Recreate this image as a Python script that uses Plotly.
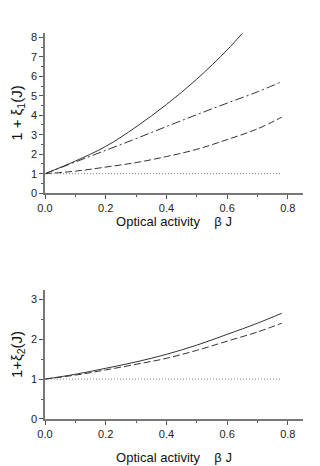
import plotly.graph_objects as go
from plotly.subplots import make_subplots

# top panel: 1 + xi_1(J)
x_solid1 = [0.0, 0.1, 0.2, 0.3, 0.4, 0.5, 0.6, 0.65]
y_solid1 = [1.0, 1.65, 2.4, 3.4, 4.55, 5.85, 7.35, 8.2]
x_dashdot1 = [0.0, 0.1, 0.2, 0.3, 0.4, 0.5, 0.6, 0.7, 0.78]
y_dashdot1 = [1.0, 1.6, 2.2, 2.8, 3.42, 4.03, 4.62, 5.2, 5.72]
x_dash1 = [0.0, 0.1, 0.2, 0.3, 0.4, 0.5, 0.6, 0.7, 0.78]
y_dash1 = [1.0, 1.13, 1.34, 1.57, 1.88, 2.25, 2.75, 3.3, 3.9]
x_dot1 = [0.0, 0.78]
y_dot1 = [1.0, 1.0]

# bottom panel: 1 + xi_2(J)
x_solid2 = [0.0, 0.1, 0.2, 0.3, 0.4, 0.5, 0.6, 0.7, 0.78]
y_solid2 = [1.0, 1.12, 1.27, 1.43, 1.62, 1.85, 2.12, 2.4, 2.65]
x_dash2 = [0.0, 0.1, 0.2, 0.3, 0.4, 0.5, 0.6, 0.7, 0.78]
y_dash2 = [1.0, 1.1, 1.23, 1.37, 1.52, 1.72, 1.95, 2.18, 2.4]
x_dot2 = [0.0, 0.78]
y_dot2 = [1.0, 1.0]

fig = make_subplots(rows=2, cols=1)

line_col = "#333333"
dot_col = "#888888"

def add_line(x, y, dash, row, color=line_col):
    fig.add_trace(go.Scatter(x=x, y=y, mode="lines", line_shape="spline",
                             line=dict(color=color, width=1, dash=dash)),
                  row=row, col=1)

add_line(x_solid1, y_solid1, "solid", 1)
add_line(x_dashdot1, y_dashdot1, "9px,3px,2px,3px", 1)
add_line(x_dash1, y_dash1, "7px,3px", 1)
add_line(x_dot1, y_dot1, "1px,2px", 1, dot_col)
add_line(x_solid2, y_solid2, "solid", 2)
add_line(x_dash2, y_dash2, "7px,3px", 2)
add_line(x_dot2, y_dot2, "1px,2px", 2, dot_col)

tick_font = dict(family="Liberation Sans, Arial", size=11, color="#222")
axis_common = dict(showgrid=False, zeroline=False, showline=True, automargin=False,
                   linecolor="#777777", linewidth=1.5, ticks="outside",
                   ticklen=4, tickcolor="#555555", tickfont=tick_font)
minor = dict(ticks="outside", ticklen=2, tickcolor="#555555")

fig.update_xaxes(**axis_common, range=[0, 0.85], tickvals=[0, 0.2, 0.4, 0.6, 0.8],
                 ticktext=["0.0", "0.2", "0.4", "0.6", "0.8"],
                 minor=dict(**minor, dtick=0.1, tick0=0), domain=[0, 1])
fig.update_yaxes(**axis_common, dtick=1, minor=dict(**minor, dtick=0.5, tick0=0))

fig.update_yaxes(domain=[0.585, 1.0], range=[0, 8.22], row=1, col=1)
fig.update_yaxes(domain=[0.0, 0.334], range=[0, 3.23], row=2, col=1)

title_font = dict(family="Liberation Sans, Arial", size=13, color="#111")
y_title_font = dict(family="Liberation Sans, Arial", size=15, color="#111")
x_title = "Optical activity    \u03b2 J"
fig.update_xaxes(title_text=x_title, title_font=title_font, title_standoff=3,
                 row=1, col=1)
fig.update_xaxes(title_text=x_title, title_font=title_font, title_standoff=14,
                 row=2, col=1)
fig.update_yaxes(title_text="1 + \u03be<sub>1</sub>(J)", title_font=y_title_font,
                 title_standoff=8, row=1, col=1)
fig.update_yaxes(title_text="1+\u03be<sub>2</sub>(J)", title_font=y_title_font,
                 title_standoff=8, row=2, col=1)

# page body has an 8px margin, so the figure is 8px smaller than the window
fig.update_layout(template="none", width=312, height=458, showlegend=False,
                  margin=dict(l=37, r=17, t=25, b=47),
                  plot_bgcolor="white", paper_bgcolor="white")

fig.write_html("out.html")
